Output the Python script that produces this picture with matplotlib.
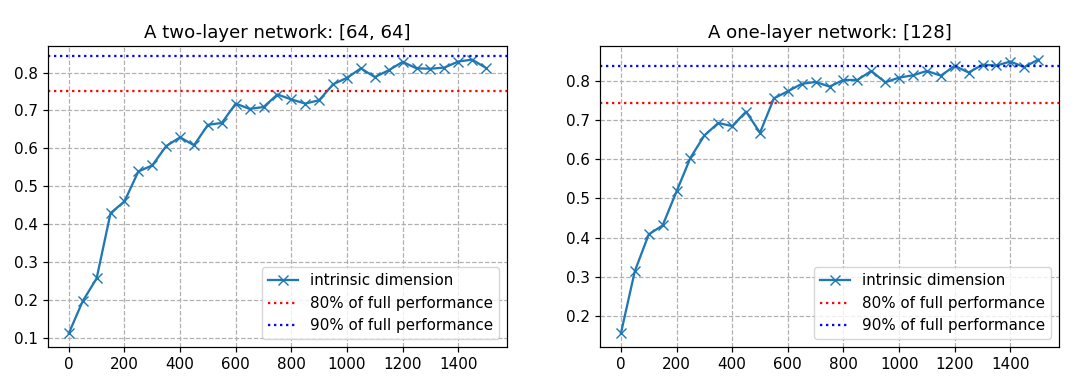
import matplotlib
matplotlib.use("Agg")
import matplotlib.pyplot as plt

x_vals = list(range(0, 1501, 50))

two_layer = [0.112, 0.197, 0.257, 0.429, 0.460, 0.539, 0.555, 0.606, 0.629, 0.608,
             0.662, 0.667, 0.718, 0.704, 0.709, 0.742, 0.729, 0.718, 0.727, 0.769,
             0.786, 0.811, 0.788, 0.806, 0.828, 0.811, 0.810, 0.813, 0.829, 0.834, 0.812]
two_layer_80 = 0.750
two_layer_90 = 0.843

one_layer = [0.155, 0.314, 0.408, 0.431, 0.518, 0.604, 0.661, 0.693, 0.685, 0.722,
             0.668, 0.756, 0.774, 0.793, 0.798, 0.786, 0.803, 0.803, 0.826, 0.797,
             0.809, 0.815, 0.826, 0.814, 0.839, 0.822, 0.842, 0.840, 0.850, 0.836, 0.855]
one_layer_80 = 0.7445
one_layer_90 = 0.8375

titles = ["A two-layer network: [64, 64]", "A one-layer network: [128]"]

s = 1.09
plt.rcParams['axes.linewidth'] = 0.8 * s
plt.rcParams['xtick.major.width'] = 0.8 * s
plt.rcParams['ytick.major.width'] = 0.8 * s
plt.rcParams['xtick.major.size'] = 3.5 * s
plt.rcParams['ytick.major.size'] = 3.5 * s

fig = plt.figure(figsize=(10.8, 3.91), dpi=100)
ax1 = fig.add_axes([0.0444, 0.1125, 0.425, 0.770])
ax2 = fig.add_axes([0.5556, 0.1125, 0.425, 0.770])

for ax, ys, r80, r90, title in [(ax1, two_layer, two_layer_80, two_layer_90, titles[0]),
                                 (ax2, one_layer, one_layer_80, one_layer_90, titles[1])]:
    ax.plot(x_vals, ys, marker='x', color='#1f77b4', linewidth=1.5 * s,
            markersize=6 * s, label='intrinsic dimension')
    ax.axhline(r80, color='red', linestyle=':', linewidth=1.5 * s, label='80% of full performance')
    ax.axhline(r90, color='blue', linestyle=':', linewidth=1.5 * s, label='90% of full performance')
    ax.grid(True, linestyle='--', color='#b0b0b0', linewidth=0.8 * s)
    ax.set_title(title, fontsize=12 * s)
    ax.tick_params(labelsize=10 * s)
    ax.set_xticks([0, 200, 400, 600, 800, 1000, 1200, 1400])
    ax.legend(loc='lower right', fontsize=10 * s)

fig.savefig("out.png", dpi=100)
